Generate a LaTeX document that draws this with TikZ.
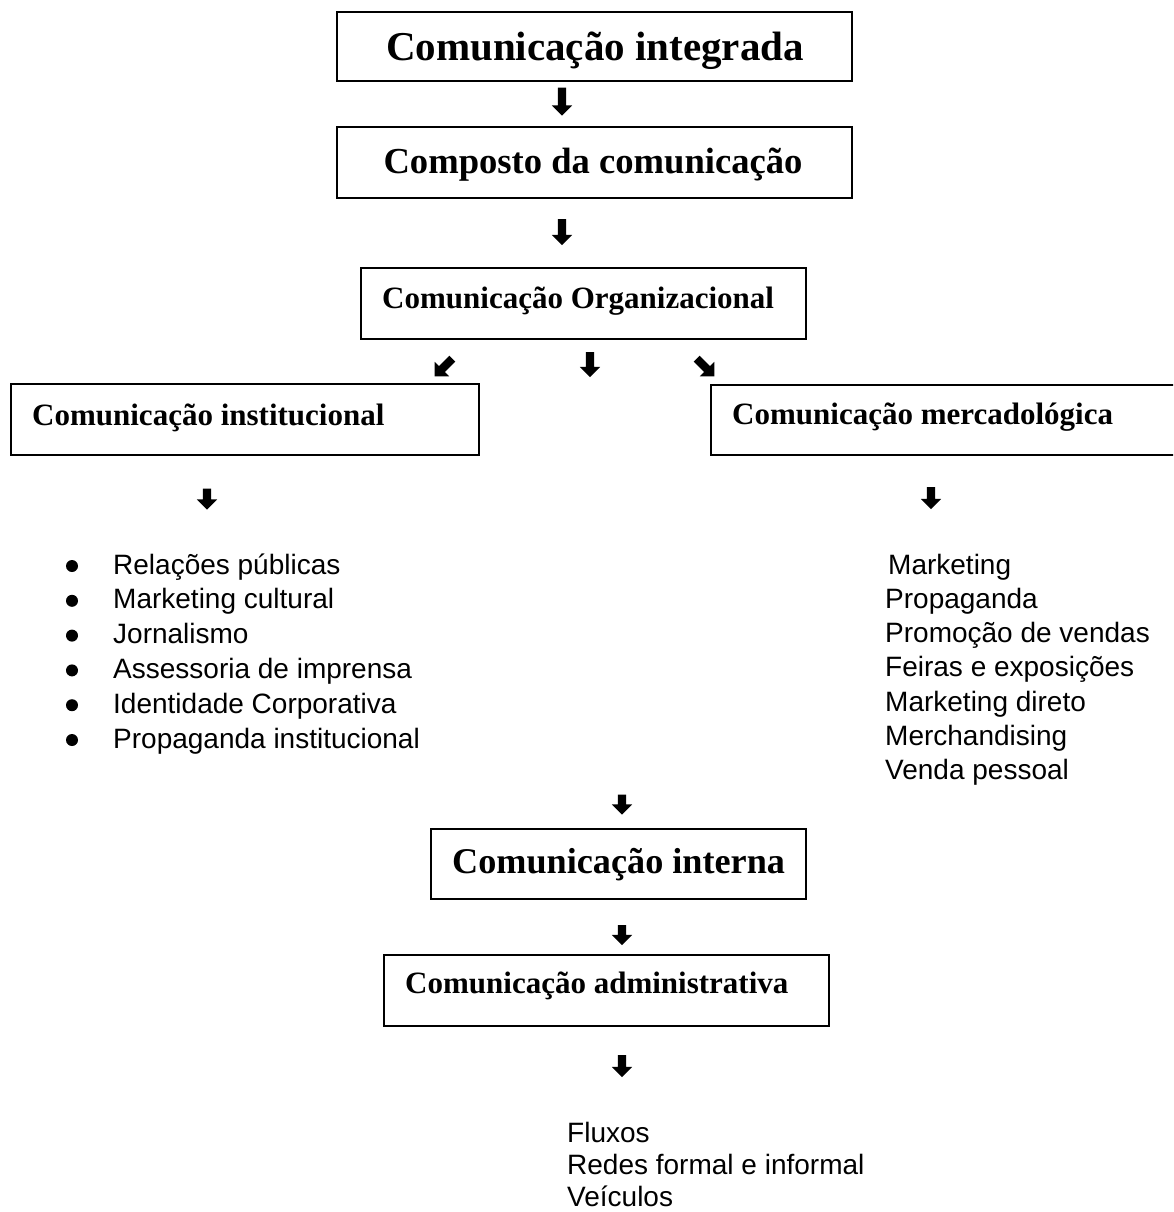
\documentclass[tikz,border=0pt]{standalone}
\usepackage{fontspec}
\setmainfont{Liberation Serif}
\newfontfamily\arialf{Liberation Sans}
\usetikzlibrary{shapes.arrows}
\tikzset{
  boxst/.style={draw, line width=1.6pt, inner sep=0pt, rectangle},
  ttl/.style={inner sep=0pt, anchor=base west, font=\bfseries\fontsize{#1}{#1}\selectfont},
  itm/.style={inner sep=0pt, anchor=base west, font=\arialf\fontsize{28}{30}\selectfont},
  bul/.style={circle, fill=black, inner sep=0pt, minimum size=12pt},
  blk/.style={single arrow, draw=none, fill=black, inner xsep=0pt, inner ysep=4pt,
    minimum width=20pt, minimum height=#1, single arrow head extend=6pt,
    single arrow tip angle=90, single arrow head indent=0pt},
}
\begin{document}
\begin{tikzpicture}[x=1pt,y=-1pt]
\clip (0,0) rectangle (1173,1212);
\fill[white] (0,0) rectangle (1173,1212);
% boxes
\node[boxst, minimum width=515pt, minimum height=69pt] (b1) at (594.5,46.5) {};
\node[boxst, minimum width=515pt, minimum height=71pt] (b2) at (594.5,162.5) {};
\node[boxst, minimum width=445pt, minimum height=71pt] (b3) at (583.5,303.5) {};
\node[boxst, minimum width=468pt, minimum height=71pt] (bi) at (245,419.5) {};
\node[boxst, minimum width=480pt, minimum height=70pt] (bm) at (951,420) {};
\node[boxst, minimum width=375pt, minimum height=70pt] (bn) at (618.5,864) {};
\node[boxst, minimum width=445pt, minimum height=71pt] (ba) at (606.5,990.5) {};
% titles
\node[ttl=41, anchor=base] (t1) at (595,61) {Comunicação integrada};
\node[ttl=36.6, anchor=base] (t2) at (593,173) {Composto da comunicação};
\node[ttl=31] (t3) at (382,308) {Comunicação Organizacional};
\node[ttl=31] (ti) at (32,425) {Comunicação institucional};
\node[ttl=31] (tm) at (732,424) {Comunicação mercadológica};
\node[ttl=36.2] (tn) at (452,873) {Comunicação interna};
\node[ttl=31] (ta) at (405,993) {Comunicação administrativa};
% arrows
\node[blk=28pt, rotate=-90] (a1) at (562,99.5) {};
\node[blk=26pt, rotate=-90] (a2) at (562,230) {};
\node[blk=25pt, rotate=-135] (a3l) at (445,366) {};
\node[blk=25pt, rotate=-90] (a3m) at (590,362.5) {};
\node[blk=25pt, rotate=-45] (a3r) at (704,366) {};
\node[blk=21pt, rotate=-90] (a4) at (207,497) {};
\node[blk=22pt, rotate=-90] (a5) at (931,496) {};
\node[blk=20pt, rotate=-90] (a6) at (622,802.5) {};
\node[blk=20pt, rotate=-90] (a7) at (622,933) {};
\node[blk=22pt, rotate=-90] (a8) at (622,1064) {};
% left list
\foreach \t [count=\i from 0] in {Relações públicas, Marketing cultural, Jornalismo,
  Assessoria de imprensa, Identidade Corporativa, Propaganda institucional} {
  \node[bul] (lb\i) at (72,566+34.8*\i) {};
  \node[itm] (lt\i) at (113,574+34.8*\i) {\t};
}
% right list
\node[itm] (r0) at (888,574) {Marketing};
\foreach \t [count=\i from 1] in {Propaganda, Promoção de vendas, Feiras e exposições,
  Marketing direto, Merchandising, Venda pessoal} {
  \node[itm] (r\i) at (885,574+34.3*\i) {\t};
}
% bottom list
\foreach \t [count=\i from 0] in {Fluxos, Redes formal e informal, Veículos} {
  \node[itm] (f\i) at (567,1142+32*\i) {\t};
}
\end{tikzpicture}
\end{document}
